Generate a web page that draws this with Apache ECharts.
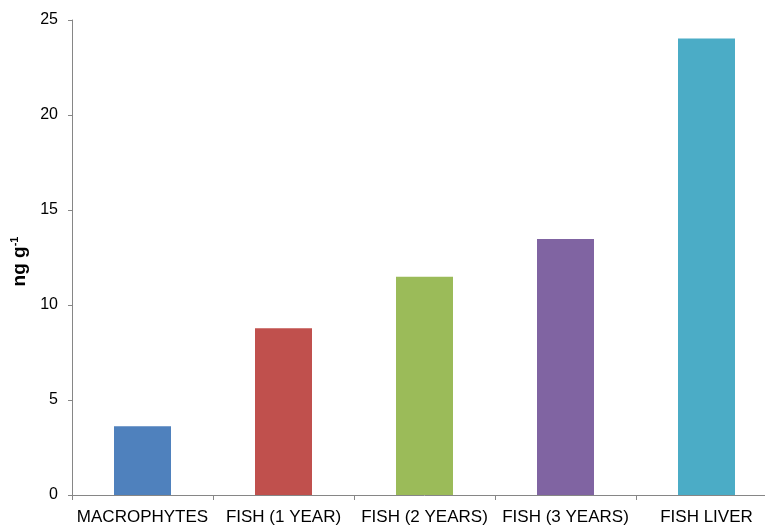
<!DOCTYPE html>
<html>
<head>
<meta charset="utf-8">
<script src="https://cdn.jsdelivr.net/npm/echarts@6/dist/echarts.min.js"></script>
<style>
html,body{margin:0;padding:0;background:#fff;overflow:hidden;}
#main{position:absolute;left:0;top:0;width:777px;height:526px;}
</style>
</head>
<body>
<div id="main"></div>
<script>
var categories = ['MACROPHYTES', 'FISH (1 YEAR)', 'FISH (2 YEARS)', 'FISH (3 YEARS)', 'FISH LIVER'];
var values = [3.62, 8.77, 11.49, 13.48, 24.02];
var colors = ['#4F81BD', '#C0504D', '#9BBB59', '#8064A2', '#4BACC6'];
var yTicks = [0, 5, 10, 15, 20, 25];

var chart = echarts.init(document.getElementById('main'), null, { width: 777, height: 526 });
chart.setOption({
  animation: false,
  backgroundColor: '#ffffff',
  grid: { left: 72, right: 0, top: 20, bottom: 28.5, containLabel: false },
  xAxis: {
    type: 'category',
    data: categories,
    axisLine: { lineStyle: { color: '#868686', width: 1 } },
    axisTick: { show: true, alignWithLabel: false, length: 5, lineStyle: { color: '#868686' } },
    axisLabel: { color: '#000', fontFamily: 'Liberation Sans, Arial, sans-serif', fontSize: 17, margin: 14, interval: 0 }
  },
  yAxis: {
    type: 'value',
    min: yTicks[0],
    max: yTicks[yTicks.length - 1],
    interval: 5,
    name: '{a|ng g}{b|-1}',
    nameLocation: 'middle',
    nameGap: 29,
    nameRotate: 90,
    nameTextStyle: {
      padding: [0, 8, 0, 0],
      rich: {
        a: { fontFamily: 'Liberation Sans, Arial, sans-serif', fontSize: 19, fontWeight: 'bold', color: '#000' },
        b: { fontFamily: 'Liberation Sans, Arial, sans-serif', fontSize: 11, fontWeight: 'bold', color: '#000', verticalAlign: 'top', padding: [0, 0, 9, 0] }
      }
    },
    axisLine: { show: true, lineStyle: { color: '#868686', width: 1 } },
    axisTick: { show: true, length: 4, lineStyle: { color: '#868686' } },
    splitLine: { show: false },
    axisLabel: { color: '#000', fontFamily: 'Liberation Sans, Arial, sans-serif', fontSize: 16, margin: 14 }
  },
  series: [{
    type: 'bar',
    barWidth: 57,
    data: values.map(function (v, i) { return { value: v, itemStyle: { color: colors[i] } }; })
  }]
});
</script>
</body>
</html>
